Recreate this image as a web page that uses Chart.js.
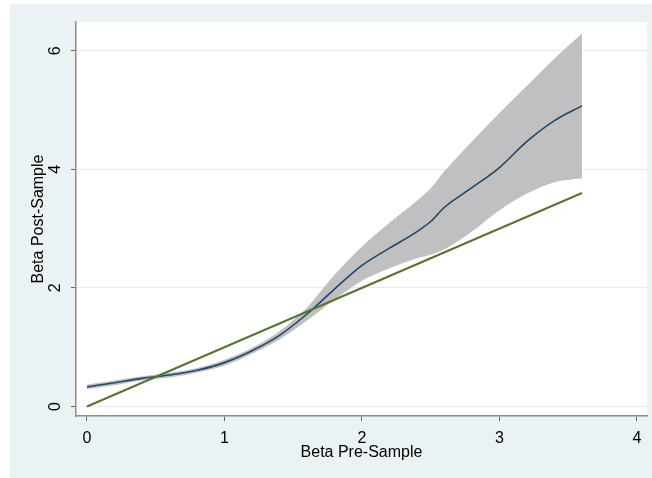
<!DOCTYPE html>
<html>
<head>
<meta charset="utf-8">
<script src="https://cdn.jsdelivr.net/npm/chart.js@4.4.1/dist/chart.umd.min.js"></script>
<style>
  html, body { margin: 0; padding: 0; background: #ffffff; }
  #wrap { width: 652px; height: 478px; }
</style>
</head>
<body>
<div id="wrap"><canvas id="c" width="652" height="478"></canvas></div>
<script>
// ---- Data ----
const xValues   = [0.0, 0.2, 0.4, 0.6, 0.8, 1.0, 1.2, 1.4, 1.6, 1.8, 2.0, 2.2, 2.4, 2.5, 2.6, 2.8, 3.0, 3.2, 3.4, 3.6];
const fitValues = [0.33,0.40,0.475,0.53,0.61,0.74,0.94,1.20,1.56,1.98,2.38,2.67,2.95,3.12,3.36,3.69,4.03,4.47,4.82,5.07];
const upperCI   = [0.37,0.44,0.51,0.57,0.65,0.79,0.99,1.27,1.67,2.22,2.70,3.10,3.47,3.68,3.97,4.47,4.95,5.41,5.87,6.29];
const lowerCI   = [0.29,0.36,0.44,0.49,0.57,0.69,0.89,1.13,1.45,1.80,2.12,2.33,2.50,2.56,2.65,2.95,3.31,3.59,3.78,3.85];
const refX      = [0, 3.6];
const refY      = [0, 3.6];
const xTicks    = [0, 1, 2, 3, 4];
const yTicks    = [0, 2, 4, 6];
const xTitle    = 'Beta Pre-Sample';
const yTitle    = 'Beta Post-Sample';

const pts = (xs, ys) => xs.map((x, i) => ({ x: x, y: ys[i] }));

const FONT = "'Liberation Sans', Arial, sans-serif";

const bgPlugin = {
  id: 'bg',
  beforeDraw(chart) {
    const { ctx, chartArea: a } = chart;
    ctx.save();
    ctx.fillStyle = '#ffffff';
    ctx.fillRect(0, 0, chart.width, chart.height);
    ctx.fillStyle = '#eaf2f3';
    ctx.fillRect(10, 4, chart.width - 10, chart.height - 4);
    ctx.fillStyle = '#ffffff';
    ctx.fillRect(a.left, a.top, a.right - a.left, a.bottom - a.top);
    ctx.restore();
  }
};

new Chart(document.getElementById('c'), {
  type: 'line',
  data: {
    datasets: [
      {
        label: 'y = x',
        data: pts(refX, refY),
        borderColor: '#55752f',
        borderWidth: 2,
        pointRadius: 0,
        fill: false,
        tension: 0
      },
      {
        label: 'fit',
        data: pts(xValues, fitValues),
        borderColor: '#1a476f',
        borderWidth: 1.6,
        pointRadius: 0,
        fill: false,
        cubicInterpolationMode: 'monotone'
      },
      {
        label: 'upper',
        data: pts(xValues, upperCI),
        borderWidth: 0,
        borderColor: 'rgba(0,0,0,0)',
        backgroundColor: '#c0c0c0',
        pointRadius: 0,
        fill: '+1',
        cubicInterpolationMode: 'monotone'
      },
      {
        label: 'lower',
        data: pts(xValues, lowerCI),
        borderWidth: 0,
        borderColor: 'rgba(0,0,0,0)',
        pointRadius: 0,
        fill: false,
        cubicInterpolationMode: 'monotone'
      }
    ]
  },
  options: {
    responsive: false,
    animation: false,
    devicePixelRatio: 1,
    layout: { padding: { left: 0, right: 5, top: 22, bottom: 0 } },
    plugins: {
      legend: { display: false },
      tooltip: { enabled: false }
    },
    scales: {
      x: {
        type: 'linear',
        min: -0.08,
        max: 4.073,
        afterBuildTicks: (s) => { s.ticks = xTicks.map(v => ({ value: v })); },
        afterFit: (s) => { s.height = 62; },
        ticks: {
          color: '#000000',
          font: { family: FONT, size: 16 },
          padding: 8,
          maxRotation: 0,
          autoSkip: false
        },
        grid: {
          drawOnChartArea: false,
          drawTicks: true,
          tickLength: 5,
          tickColor: '#666666',
          tickWidth: 1
        },
        border: { display: true, color: '#8c8c8c', width: 1.5 },
        title: {
          display: true,
          text: xTitle,
          color: '#000000',
          font: { family: FONT, size: 16 },
          padding: { top: 0, bottom: 16 }
        }
      },
      y: {
        type: 'linear',
        min: -0.16,
        max: 6.484,
        afterBuildTicks: (s) => { s.ticks = yTicks.map(v => ({ value: v })); },
        afterFit: (s) => { s.width = 76; },
        ticks: {
          color: '#000000',
          font: { family: FONT, size: 16 },
          padding: 11,
          minRotation: 90,
          maxRotation: 90,
          crossAlign: 'center',
          autoSkip: false
        },
        grid: {
          color: '#e6ecee',
          lineWidth: 1,
          drawTicks: true,
          tickLength: 5,
          tickColor: '#666666',
          tickWidth: 1
        },
        border: { display: true, color: '#8c8c8c', width: 1.5 },
        title: {
          display: true,
          text: yTitle,
          color: '#000000',
          font: { family: FONT, size: 16 },
          padding: { top: 29.4, bottom: 0 }
        }
      }
    }
  },
  plugins: [bgPlugin]
});
</script>
</body>
</html>
